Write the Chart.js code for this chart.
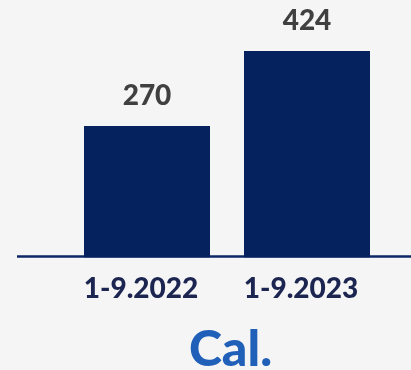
<!DOCTYPE html>
<html><head><meta charset="utf-8">
<script src="https://cdn.jsdelivr.net/npm/chart.js@4"></script>
<style>html,body{margin:0;padding:0;background:#f5f5f5;}#wrap{width:411px;height:370px;position:relative;}</style>
</head><body><div id="wrap"><canvas id="c"></canvas></div>
<script>
const categories = ['1-9.2022', '1-9.2023'];
const values = [270, 424];
const logoText = 'Cal.';

const baseline = {
  id: 'baseline',
  beforeDatasetsDraw(chart) {
    const y = chart.scales.y.getPixelForValue(0);
    const ctx = chart.ctx;
    ctx.save();
    ctx.strokeStyle = '#0d2766';
    ctx.lineWidth = 2.5;
    ctx.beginPath();
    ctx.moveTo(17, y - 1);
    ctx.lineTo(chart.width, y - 1);
    ctx.stroke();
    ctx.restore();
  }
};
const valueLabels = {
  id: 'valueLabels',
  afterDatasetsDraw(chart) {
    const ctx = chart.ctx;
    const meta = chart.getDatasetMeta(0);
    ctx.save();
    ctx.font = '900 28px Lato';
    ctx.fillStyle = '#404040';
    ctx.textAlign = 'center';
    ctx.textBaseline = 'alphabetic';
    meta.data.forEach((bar, i) => {
      ctx.fillText(String(values[i]), bar.x, bar.y - 21);
    });
    ctx.restore();
  }
};

function draw() {
  new Chart(document.getElementById('c'), {
    type: 'bar',
    data: {
      labels: categories,
      datasets: [{
        data: values,
        backgroundColor: '#05225f',
        borderWidth: 0,
        barPercentage: 0.7875,
        categoryPercentage: 1.0
      }]
    },
    options: {
      responsive: true,
      maintainAspectRatio: false,
      animation: false,
      layout: { padding: { left: 67, right: 17, top: 0, bottom: 0 } },
      plugins: {
        legend: { display: false },
        tooltip: { enabled: false },
        title: {
          display: true,
          position: 'bottom',
          text: logoText,
          color: '#2160b8',
          font: { family: 'Lato', weight: '900', size: 50, lineHeight: 0.8 },
          padding: { top: 17, bottom: 0 }
        }
      },
      scales: {
        x: {
          offset: true,
          grid: { display: false },
          border: { display: false },
          ticks: {
            color: '#1b2550',
            font: { family: 'Lato', weight: '900', size: 28 },
            padding: 7,
            labelOffset: -6
          }
        },
        y: {
          position: 'right',
          min: 0,
          max: 529,
          grid: { display: false },
          border: { display: false },
          ticks: { display: false },
          afterFit(scale) { scale.width = 7; }
        }
      }
    },
    plugins: [baseline, valueLabels]
  });
}
Promise.all([
  document.fonts.load('900 28px Lato'),
  document.fonts.load('900 50px Lato')
]).then(draw, draw);
</script>
</body></html>
